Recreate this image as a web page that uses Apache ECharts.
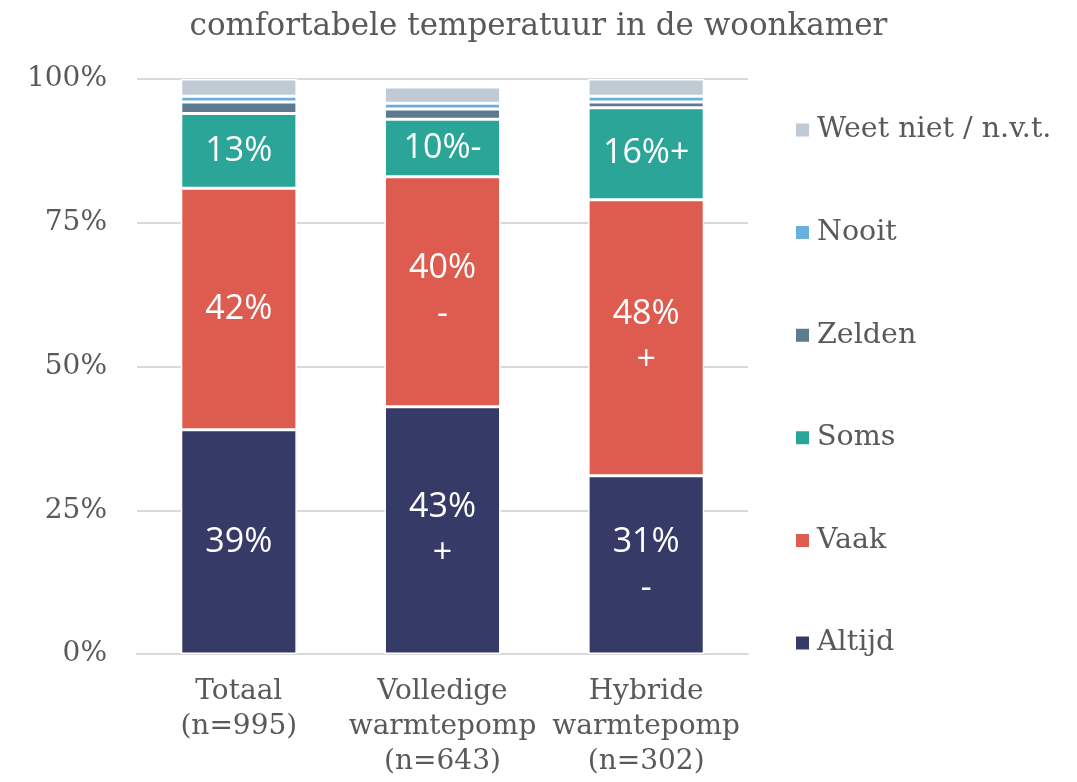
<!DOCTYPE html>
<html>
<head>
<meta charset="utf-8">
<script src="https://cdn.jsdelivr.net/npm/echarts@6/dist/echarts.min.js"></script>
<style>
  html, body { margin: 0; padding: 0; background: #fff; }
  #chart { width: 1077px; height: 782px; }
</style>
</head>
<body>
<div id="chart"></div>
<script>
// groepen (x-as)
const categories = ['Totaal\n(n=995)', 'Volledige\nwarmtepomp\n(n=643)', 'Hybride\nwarmtepomp\n(n=302)'];

// percentages per antwoord, in volgorde van de categorieën
const altijd   = [39, 43, 31];
const vaak     = [42, 40, 48];
const soms     = [13, 10, 16];
const zelden   = [2, 1.8, 1];
const nooit    = [1, 1, 1];
const weetNiet = [3, 2.8, 3];

// labels zoals in de grafiek (met significantie-tekens)
const altijdLabels = ['39%', '43%\n+', '31%\n-'];
const vaakLabels   = ['42%', '40%\n-', '48%\n+'];
const somsLabels   = ['13%', '10%-', '16%+'];

const yTicks = [0, 25, 50, 75, 100];

const serif = 'DejaVu Serif';
const sans = 'Open Sans';
const grey = '#595959';

function series(name, data, color, labels) {
    return {
        name: name,
        type: 'bar',
        stack: 'totaal',
        barWidth: '57%',
        data: data,
        itemStyle: {color: color, borderColor: '#fff', borderWidth: 1.5},
        label: labels ? {
            show: true,
            position: 'inside',
            color: '#fff',
            fontFamily: sans,
            fontSize: 34,
            lineHeight: 46,
            formatter: p => labels[p.dataIndex]
        } : {show: false}
    };
}

const chart = echarts.init(document.getElementById('chart'));
chart.setOption({
    backgroundColor: '#fff',
    animation: false,
    title: {
        text: 'comfortabele temperatuur in de woonkamer',
        left: 'center',
        top: 6,
        textStyle: {fontFamily: serif, fontWeight: 'normal', fontSize: 31, color: grey}
    },
    legend: {
        orient: 'vertical',
        left: 789,
        top: 110,
        itemGap: 72.6,
        itemWidth: 15,
        itemHeight: 15,
        icon: 'rect',
        data: ['Weet niet / n.v.t.', 'Nooit', 'Zelden', 'Soms', 'Vaak', 'Altijd'],
        textStyle: {fontFamily: serif, fontSize: 28.5, color: grey, lineHeight: 30, padding: [0, 0, 0, 2]}
    },
    grid: {left: 137, right: 329, top: 79, bottom: 128},
    xAxis: {
        type: 'category',
        data: categories,
        axisLine: {lineStyle: {color: '#d9d9d9', width: 2}},
        axisTick: {show: false},
        axisLabel: {interval: 0, fontFamily: serif, fontSize: 28, color: grey, lineHeight: 35, margin: 20}
    },
    yAxis: {
        type: 'value',
        min: yTicks[0],
        max: yTicks[yTicks.length - 1],
        interval: 25,
        axisLabel: {fontFamily: serif, fontSize: 28, color: grey, margin: 30, formatter: '{value}%'},
        splitLine: {lineStyle: {color: '#d9d9d9', width: 2}}
    },
    series: [
        series('Altijd', altijd, '#363a66', altijdLabels),
        series('Vaak', vaak, '#de5b50', vaakLabels),
        series('Soms', soms, '#2aa598', somsLabels),
        series('Zelden', zelden, '#5e7a8f'),
        series('Nooit', nooit, '#6aaee0'),
        series('Weet niet / n.v.t.', weetNiet, '#bfcad4')
    ]
});
</script>
</body>
</html>
